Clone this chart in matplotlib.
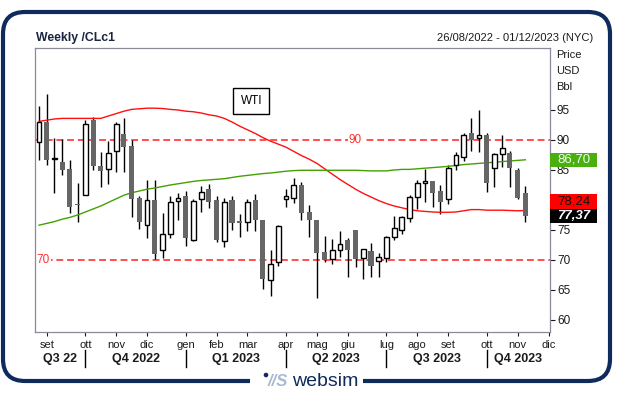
"""
WTI weekly candles with moving averages
"""
import matplotlib
matplotlib.use("Agg")
import matplotlib.pyplot as plt
import matplotlib.transforms as mtransforms
from matplotlib.patches import FancyBboxPatch, Rectangle, Circle
import numpy as np
import pandas as pd

plt.rcParams['font.family'] = ['Liberation Sans', 'DejaVu Sans']

# weekly candles (Friday dates), 26/08/2022 -> 10/11/2023
opens = [89.6, 93.0, 86.8, 86.4, 85.2, 79.4, 80.9, 93.4, 85.7, 85.1,
         88.2, 91.0, 89.0, 80.3, 75.9, 80.0, 71.7, 74.4, 79.9, 80.7,
         73.4, 80.1, 81.8, 80.0, 73.2, 80.0, 76.5, 76.4, 80.0, 76.7,
         66.7, 69.6, 80.1, 80.4, 82.5, 78.0, 76.7, 71.4, 70.1, 71.7,
         73.3, 75.0, 70.3, 71.5, 69.8, 70.4, 73.8, 75.0, 77.0, 80.5,
         82.8, 83.2, 81.5, 80.1, 85.9, 87.2, 91.2, 90.4, 90.8, 85.3,
         87.6, 87.9, 85.0, 81.1]
highs = [95.7, 97.7, 90.3, 90.1, 86.6, 82.9, 93.3, 93.8, 88.05, 89.9,
         93.0, 93.6, 90.0, 80.6, 83.3, 83.3, 77.9, 80.6, 81.1, 81.5,
         80.1, 82.4, 82.7, 80.7, 80.3, 80.7, 77.7, 80.1, 81.0, 76.7,
         71.7, 75.9, 81.9, 83.6, 83.0, 79.2, 76.7, 74.0, 73.5, 74.8,
         73.6, 75.0, 71.9, 72.9, 71.1, 74.0, 77.3, 77.3, 80.8, 83.3,
         85.2, 83.2, 82.5, 85.8, 88.0, 91.1, 93.6, 95.0, 91.1, 87.9,
         90.8, 88.2, 85.3, 82.3]
lows = [86.6, 85.8, 81.1, 84.2, 77.9, 76.3, 80.8, 85.0, 82.1, 82.7,
        84.6, 84.6, 77.2, 75.1, 73.6, 70.1, 70.3, 73.7, 76.7, 72.4,
        73.2, 78.0, 78.7, 73.0, 72.2, 75.0, 73.8, 74.8, 74.8, 65.1,
        64.0, 69.0, 78.9, 79.5, 76.7, 73.9, 63.6, 69.7, 69.4, 70.5,
        67.1, 68.9, 66.8, 67.2, 67.1, 69.6, 73.3, 74.3, 76.4, 78.5,
        79.6, 78.9, 77.6, 79.3, 85.0, 86.5, 88.2, 88.0, 81.4, 82.2,
        85.5, 82.1, 80.1, 76.4]
closes = [93.0, 86.7, 86.9, 85.0, 78.8, 79.2, 92.6, 85.6, 84.9, 87.8,
          92.7, 88.9, 80.1, 76.3, 80.0, 71.0, 74.3, 79.6, 80.3, 73.7,
          79.8, 81.3, 79.6, 73.3, 79.6, 76.2, 76.2, 79.6, 76.6, 66.8,
          69.3, 75.7, 80.7, 82.5, 77.8, 76.7, 71.2, 70.0, 71.7, 72.7,
          71.7, 70.1, 71.8, 69.0, 70.5, 73.8, 75.4, 77.1, 80.5, 82.8,
          83.2, 81.2, 79.7, 85.4, 87.5, 90.8, 90.0, 90.8, 82.8, 87.7,
          88.6, 85.4, 80.4, 77.37]

# moving averages
ma_red = [93.1, 93.3, 93.5, 93.6, 93.6, 93.6, 93.6, 93.6, 93.6, 94.0,
          94.4, 94.8, 95.1, 95.2, 95.3, 95.3, 95.25, 95.1, 95.0, 94.8,
          94.7, 94.5, 94.2, 94.0, 93.6, 93.0, 92.3, 91.7, 91.1, 90.4,
          89.8, 89.3, 88.8, 88.1, 87.4, 86.8, 86.1, 85.2, 84.3, 83.4,
          82.6, 81.8, 81.1, 80.5, 79.9, 79.4, 79.0, 78.7, 78.4, 78.2,
          78.1, 78.0, 77.95, 77.95, 78.0, 78.2, 78.4, 78.4, 78.3, 78.3,
          78.3, 78.25, 78.2, 78.24]
ma_green = [75.8, 76.1, 76.4, 76.8, 77.1, 77.5, 78.0, 78.5, 79.0, 79.6,
            80.2, 80.8, 81.2, 81.5, 81.8, 82.0, 82.25, 82.5, 82.7, 82.9,
            83.1, 83.25, 83.35, 83.45, 83.55, 83.75, 83.95, 84.1, 84.25, 84.4,
            84.5, 84.65, 84.8, 84.9, 84.95, 84.95, 84.95, 84.95, 84.95, 84.95,
            84.95, 84.95, 84.9, 84.85, 84.85, 84.85, 85.0, 85.1, 85.1, 85.2,
            85.3, 85.4, 85.5, 85.6, 85.75, 85.9, 86.0, 86.1, 86.2, 86.3,
            86.4, 86.5, 86.6, 86.7]

mesi = ["gen", "feb", "mar", "apr", "mag", "giu", "lug", "ago", "set", "ott", "nov", "dic"]
quarter_labels = ["Q3 22", "Q4 2022", "Q1 2023", "Q2 2023", "Q3 2023", "Q4 2023"]
price_ticks = [60, 65, 70, 75, 80, 85, 90, 95]
levels = [90, 70]

weeks = pd.date_range("2022-08-26", "2023-12-01", freq="W-FRI")
idx = np.arange(len(opens))
o, h, l, c = map(np.array, (opens, highs, lows, closes))

# month ticks = first weekly bar of each month
month_pos = [i for i in range(1, len(weeks)) if weeks[i].month != weeks[i - 1].month]
month_lab = [mesi[weeks[i].month - 1] for i in month_pos]
q_bounds = [i for i in month_pos if weeks[i].month in (1, 4, 7, 10)]

navy = '#0f2a5c'
fig = plt.figure(figsize=(6.24, 3.96), dpi=100, facecolor='white')

# frame / header layer in pixel coords
bg = fig.add_axes([0, 0, 1, 1], zorder=0)
bg.set_xlim(0, 624)
bg.set_ylim(396, 0)
bg.axis('off')
bg.add_patch(FancyBboxPatch((3, 12), 607, 369, boxstyle="round,pad=0,rounding_size=22",
                            fill=False, ec=navy, lw=3))
bg.add_patch(Rectangle((250, 370), 113, 18, fc='white', ec='none'))
bg.add_patch(Circle((266, 375), 2.3, fc=navy, ec='none'))
bg.text(268, 382, "//S", color='#a9b9d3', fontsize=12, fontstyle='italic', fontweight='bold',
        ha='left', va='center')
bg.text(292, 381, "websim", color=navy, fontsize=14, ha='left', va='center')
bg.text(36, 38, "Weekly /CLc1", fontsize=8.8, fontweight='bold', color='#1b2540',
        ha='left', va='center')
bg.text(593, 38, "26/08/2022 - 01/12/2023 (NYC)", fontsize=8, color='#1b1b1b',
        ha='right', va='center')
for y, s in zip([55, 71, 87], ["Price", "USD", "Bbl"]):
    bg.text(556, y, s, fontsize=8, color='#1b1b1b', ha='left', va='center')

ax = fig.add_axes([35 / 624, 64 / 396, 515 / 624, 284 / 396], zorder=2)
ax.set_facecolor('white')
ax.set_xlim(-0.52, 66.19)
ax.set_ylim(58, 105.33)

# candles
ax.vlines(idx, l, h, color='black', lw=1, zorder=2)
up = c >= o
body = np.maximum(np.abs(c - o), 0.12)
ax.bar(idx[up], body[up], bottom=np.minimum(o, c)[up], width=0.62,
       color='white', edgecolor='black', linewidth=1, zorder=3)
ax.bar(idx[~up], body[~up], bottom=np.minimum(o, c)[~up], width=0.66,
       color='#666666', edgecolor='#666666', linewidth=0, zorder=3)

ax.plot(idx, ma_red, color='#ff1010', lw=1, zorder=2.5)
ax.plot(idx, ma_green, color='#44a000', lw=1, zorder=2.5)

for lev in levels:
    ax.axhline(lev, color='#ff2020', lw=1.1, ls=(0, (4.5, 2.5)), zorder=1)
ax.text(41, 90, "90", color='#ff3030', fontsize=8.5, ha='center', va='center',
        bbox=dict(fc='white', ec='none', pad=1), zorder=1.5)
ax.text(0.45, 70, "70", color='#ff3030', fontsize=8.5, ha='center', va='center',
        bbox=dict(fc='white', ec='none', pad=1), zorder=1.5)
ax.text(27.5, 96.5, "WTI", fontsize=8.5, ha='center', va='center',
        bbox=dict(boxstyle='square,pad=0.6', fc='white', ec='black', lw=1))

for s in ax.spines.values():
    s.set_color('#8a8a9a')
    s.set_linewidth(0.9)

ax.yaxis.tick_right()
ax.set_yticks(price_ticks)
# the 80 label sits under the last-value boxes in the original
ax.set_yticklabels(["" if t == 80 else str(t) for t in price_ticks])
ax.tick_params(axis='y', length=3.5, pad=1.5, labelsize=8.5, colors='#1b1b1b')
ax.set_xticks(month_pos)
ax.set_xticklabels(month_lab)
ax.tick_params(axis='x', length=3, pad=2.5, labelsize=8, colors='#1b1b1b')

# quarter row
tr = mtransforms.blended_transform_factory(ax.transData, ax.transAxes)
edges = [ax.get_xlim()[0]] + q_bounds + [ax.get_xlim()[1]]
for b in q_bounds:
    ax.plot([b, b], [-0.064, -0.124], transform=tr, clip_on=False, color='black', lw=1)
for lab, a, b in zip(quarter_labels, edges[:-1], edges[1:]):
    ax.text((a + b) / 2, -0.096, lab, transform=tr, ha='center', va='center',
            fontsize=9, fontweight='bold', color='#1b1b1b')

# last-value boxes on the price axis
ty = mtransforms.blended_transform_factory(ax.transAxes, ax.transData)
bw, bh = 47 / 515, 2.4
last_black = closes[-1]
last_red = max(ma_red[-1], last_black + bh)
boxes = [(ma_green[-1], ma_green[-1], '#4caf10', '#eaffea', 'normal', 'normal'),
         (ma_red[-1], last_red, '#ff0000', '#111111', 'normal', 'normal'),
         (last_black, last_black, 'black', 'white', 'bold', 'italic')]
for val, yc, fc, tc, fw, fs in boxes:
    ax.add_patch(Rectangle((1.0, yc - bh / 2), bw, bh, transform=ty, clip_on=False,
                           fc=fc, ec='none', zorder=10))
    ax.text(1.0 + bw / 2, yc, f"{val:.2f}".replace('.', ','), transform=ty,
            ha='center', va='center', fontsize=9.5, color=tc, fontweight=fw,
            fontstyle=fs, zorder=11, clip_on=False)

plt.savefig("out.png", dpi=100, facecolor='white')
